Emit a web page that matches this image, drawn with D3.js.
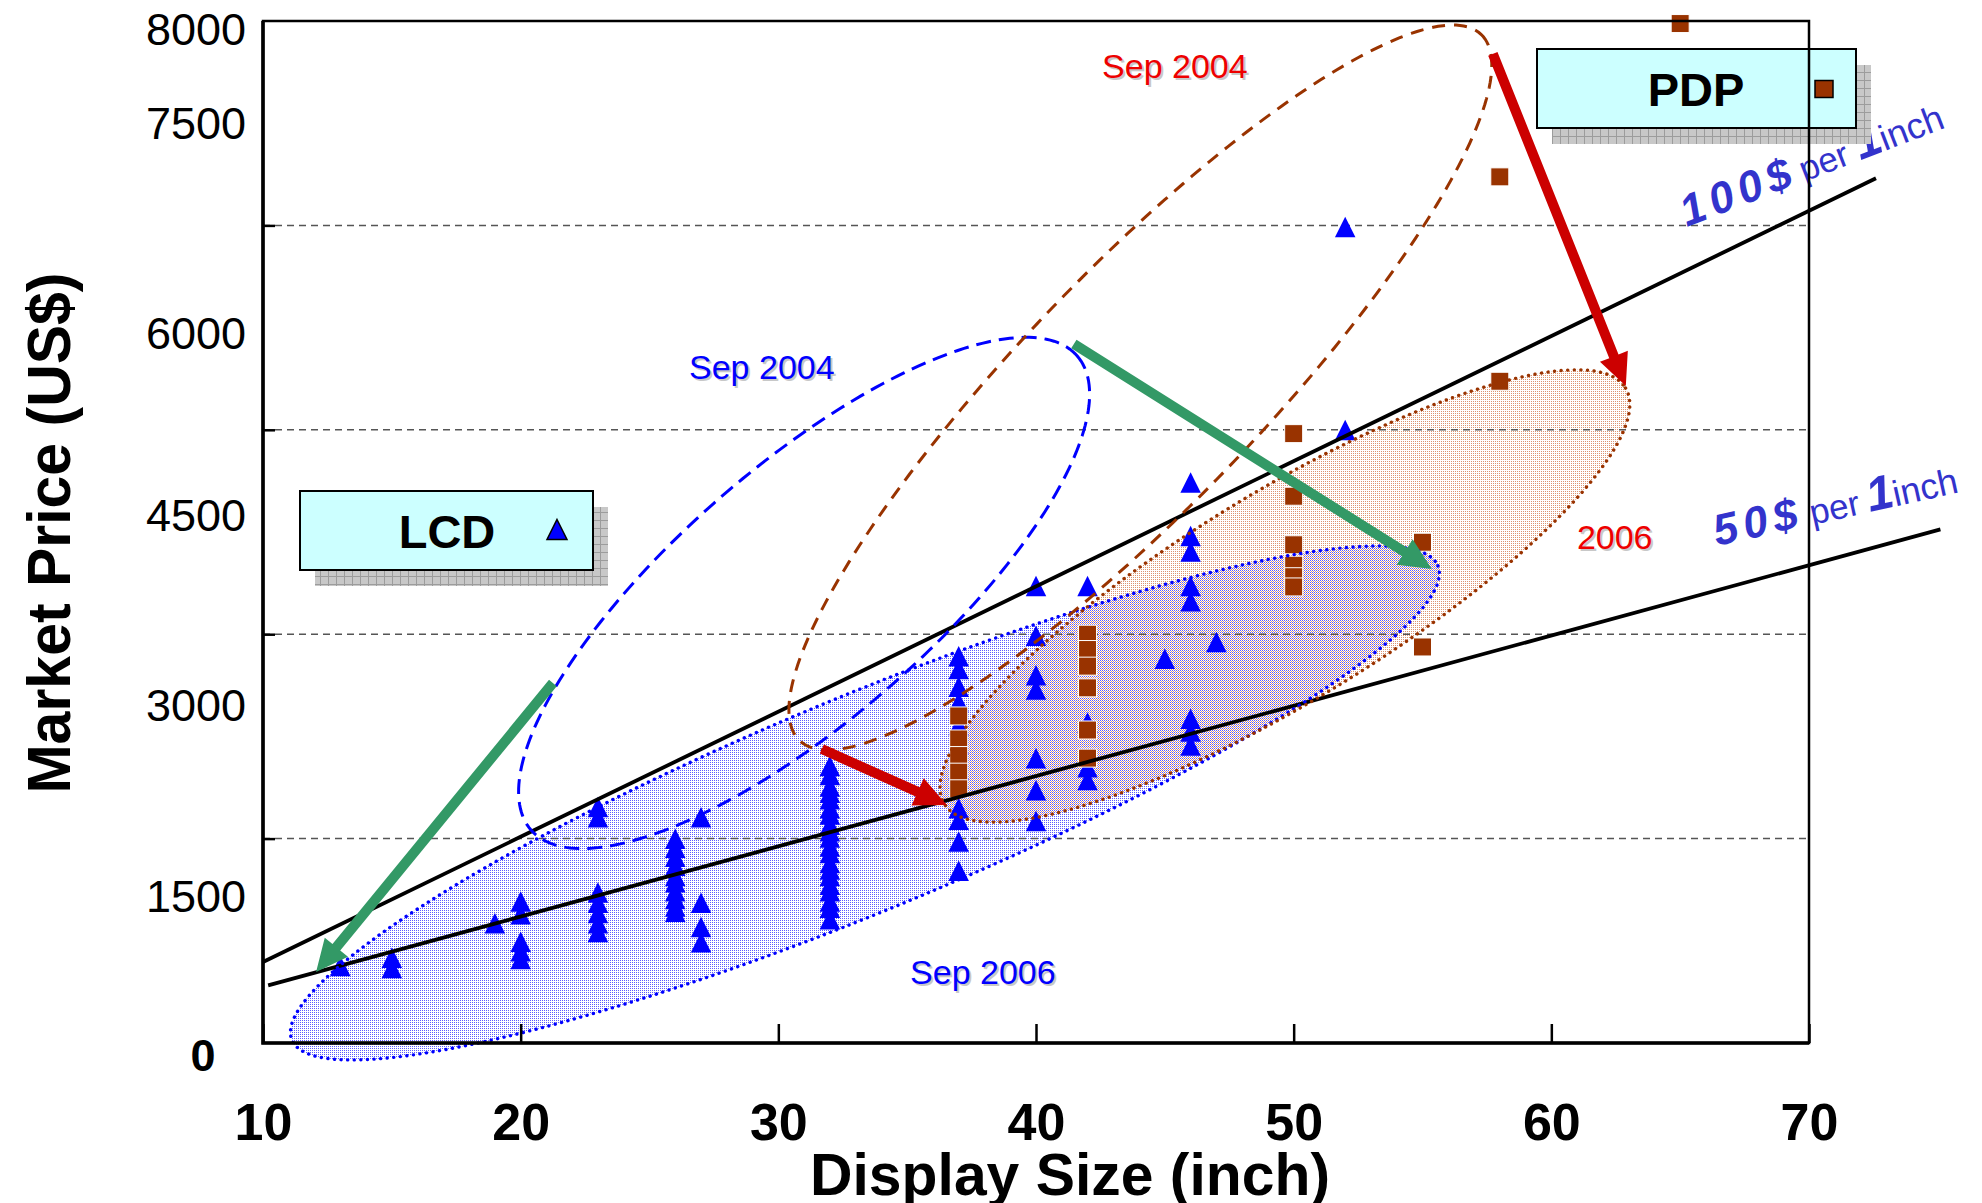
<!DOCTYPE html>
<html>
<head>
<meta charset="utf-8">
<title>Market price vs display size: LCD and PDP</title>
<style>
* {
	margin: 0;
	padding: 0;
}
body {
	background: #fff;
}
svg {
	display: block;
	font-family: "Liberation Sans", Arial, sans-serif;
}
</style>
</head>
<body>
<div id="chart"></div>
<script src="https://cdn.jsdelivr.net/npm/d3@7"></script>
<script>

// ---- data ----
var xTickLabels = [ 10, 20, 30, 40, 50, 60, 70 ];
var yGrid = [ 1600, 3200, 4800, 6400 ];
// the printed price labels do not sit on the grid; yTickLabelAt is where each one was placed
var yTickLabels = [ '0', '1500', '3000', '4500', '6000', '7500', '8000' ];
var yTickLabelAt = [ -94, 1151, 2646, 4133, 5558, 7202, 7937 ];

var lcdSizes = [ 13, 15, 19, 20, 23, 26, 27, 32, 37, 40, 42, 45, 46, 47, 52 ];
var lcdPrices = [
	[ 595 ],
	[ 660, 580 ],
	[ 930 ],
	[ 1100, 1000, 785, 710, 650 ],
	[ 1840, 1760, 1170, 1090, 1010, 930, 860 ],
	[ 1590, 1520, 1450, 1380, 1300, 1250, 1180, 1120, 1060, 1020 ],
	[ 1760, 1090, 900, 780 ],
	[ 2160, 2090, 2000, 1950, 1900, 1830, 1780, 1700, 1650, 1600, 1530, 1480, 1400, 1350, 1300, 1230, 1180, 1100, 1050, 960 ],
	[ 3020, 2920, 2780, 2660, 2480, 2330, 2130, 2060, 1830, 1740, 1570, 1340 ],
	[ 3570, 3180, 2870, 2760, 2220, 1970, 1730 ],
	[ 3570, 2500, 2150, 2050 ],
	[ 3000 ],
	[ 4380, 3960, 3840, 3570, 3450, 2530, 2430, 2320 ],
	[ 3130 ],
	[ 6380, 4790 ]
];

var pdpSizes = [ 37, 42, 50, 55, 58, 65 ];
var pdpPrices = [
	[ 2560, 2380, 2250, 2120, 1990 ],
	[ 3200, 3080, 2950, 2780, 2450, 2230 ],
	[ 4770, 4280, 3900, 3740, 3650, 3570 ],
	[ 3920, 3100 ],
	[ 6780, 5180 ],
	[ 7980 ]
];

// "$ per inch" guide lines: price = slope * size + intercept
var line100 = { slope: 98, intercept: -346, from: 10, to: 72.6 };
var line50 = { slope: 55, intercept: -110, from: 10.2, to: 75.1 };

// ovals: centre and end of the long axis in data units, short/long ratio
var ovalLcd2006 = { center: [ 33.36, 1879 ], tip: [ 55.6, 3735 ], ratio: 0.173 };
var ovalPdp2006 = { center: [ 49.66, 3499 ], tip: [ 62.88, 5127 ], ratio: 0.261 };
var ovalLcd2004 = { center: [ 31.0, 3523 ], tip: [ 41.6, 5378 ], ratio: 0.351 };
var ovalPdp2004 = { center: [ 44.05, 5131 ], tip: [ 57.28, 7894 ], ratio: 0.242 };

// arrows from -> to, in data units
var lcdArrows = [ [ [ 21.25, 2818 ], [ 12.06, 556 ] ], [ [ 41.47, 5472 ], [ 55.36, 3710 ] ] ];
var pdpArrows = [ [ [ 57.73, 7742 ], [ 62.89, 5143 ] ], [ [ 31.69, 2301 ], [ 36.54, 1863 ] ] ];

var notes = [
	{ text: 'Sep 2004', at: [ 45.39, 7648 ], kind: 'pdp' },
	{ text: 'Sep 2004', at: [ 29.36, 5292 ], kind: 'lcd' },
	{ text: 'Sep 2006', at: [ 37.94, 556 ], kind: 'lcd' },
	{ text: '2006', at: [ 62.46, 3961 ], kind: 'pdp' }
];

// ---- drawing ----
var colors = {
	lcd: '#0000ff',
	pdp: '#993300',
	lcdText: '#0000ff',
	pdpText: '#ee0000',
	green: '#339966',
	red: '#cc0000',
	perInch: '#3333cc',
	grid: '#555555',
	box: '#ccffff'
};

var W = 1982, H = 1203;
var svg = d3.select( '#chart' ).append( 'svg' )
	.attr( 'width', W )
	.attr( 'height', H );

var x = d3.scaleLinear().domain( [ 10, 70 ] ).range( [ 263, 1809 ] );
var y = d3.scaleLinear().domain( [ 0, 8000 ] ).range( [ 1043, 21 ] );

var defs = svg.append( 'defs' );

function dotPattern( id, color, ox, oy ) {
	var p = defs.append( 'pattern' )
		.attr( 'id', id )
		.attr( 'patternUnits', 'userSpaceOnUse' )
		.attr( 'width', 2 )
		.attr( 'height', 2 );
	p.append( 'rect' )
		.attr( 'x', ox ).attr( 'y', oy )
		.attr( 'width', 1 ).attr( 'height', 1 )
		.attr( 'fill', color );
}
dotPattern( 'lcdFill', '#5c5cff', 0, 0 );
dotPattern( 'pdpFill', '#dd9470', 1, 1 );

var sp = defs.append( 'pattern' )
	.attr( 'id', 'shadowGrid' )
	.attr( 'patternUnits', 'userSpaceOnUse' )
	.attr( 'width', 8 )
	.attr( 'height', 8 );
sp.append( 'rect' ).attr( 'width', 8 ).attr( 'height', 8 ).attr( 'fill', '#c8c8c8' );
sp.append( 'path' ).attr( 'd', 'M0,0.5H8M0.5,0V8' ).attr( 'stroke', '#9c9c9c' ).attr( 'stroke-width', 1 );

// oval as an unrotated path so the dot fill stays on the pixel grid
var ovalLine = d3.line().curve( d3.curveLinearClosed );
function ovalPath( e ) {
	var cx = x( e.center[0] ), cy = y( e.center[1] );
	var tx = x( e.tip[0] ), ty = y( e.tip[1] );
	var a = Math.hypot( tx - cx, ty - cy ), b = a * e.ratio;
	var th = Math.atan2( ty - cy, tx - cx );
	var c = Math.cos( th ), s = Math.sin( th );
	var pts = d3.range( 240 ).map( function ( i ) {
		var t = i / 240 * 2 * Math.PI;
		var u = a * Math.cos( t ), v = b * Math.sin( t );
		return [ cx + u * c - v * s, cy + u * s + v * c ];
	} );
	return ovalLine( pts );
}

// filled 2006 ovals
var fills = svg.append( 'g' );
fills.append( 'path' ).attr( 'd', ovalPath( ovalLcd2006 ) ).attr( 'fill', 'url(#lcdFill)' );
fills.append( 'path' ).attr( 'd', ovalPath( ovalPdp2006 ) ).attr( 'fill', 'url(#pdpFill)' );

// grid
svg.append( 'g' ).selectAll( 'line' )
	.data( yGrid )
	.join( 'line' )
	.attr( 'x1', x( 10 ) ).attr( 'x2', x( 70 ) )
	.attr( 'y1', function ( d ) { return y( d ); } )
	.attr( 'y2', function ( d ) { return y( d ); } )
	.attr( 'stroke', colors.grid )
	.attr( 'stroke-width', 1.5 )
	.attr( 'stroke-dasharray', '7,5' );

// markers
function flatten( sizes, prices ) {
	var out = [];
	sizes.forEach( function ( s, i ) {
		prices[i].forEach( function ( p ) { out.push( [ s, p ] ); } );
	} );
	return out;
}

var triangle = {
	draw: function ( ctx, size ) {
		var h = Math.sqrt( size );
		ctx.moveTo( 0, -h * 0.55 );
		ctx.lineTo( h * 0.5, h * 0.45 );
		ctx.lineTo( -h * 0.5, h * 0.45 );
		ctx.closePath();
	}
};

svg.append( 'g' ).selectAll( 'path' )
	.data( flatten( lcdSizes, lcdPrices ) )
	.join( 'path' )
	.attr( 'd', d3.symbol( triangle, 420 ) )
	.attr( 'transform', function ( d ) { return 'translate(' + x( d[0] ) + ',' + y( d[1] ) + ')'; } )
	.attr( 'fill', colors.lcd );

svg.append( 'g' ).selectAll( 'rect' )
	.data( flatten( pdpSizes, pdpPrices ) )
	.join( 'rect' )
	.attr( 'x', function ( d ) { return x( d[0] ) - 9; } )
	.attr( 'y', function ( d ) { return y( d[1] ) - 9; } )
	.attr( 'width', 18 ).attr( 'height', 18 )
	.attr( 'fill', colors.pdp )
	.attr( 'stroke', '#fff' )
	.attr( 'stroke-width', 1 );

// guide lines
[ line100, line50 ].forEach( function ( l ) {
	svg.append( 'line' )
		.attr( 'x1', x( l.from ) ).attr( 'y1', y( l.slope * l.from + l.intercept ) )
		.attr( 'x2', x( l.to ) ).attr( 'y2', y( l.slope * l.to + l.intercept ) )
		.attr( 'stroke', '#000' )
		.attr( 'stroke-width', 3.8 );
} );

// oval outlines
var outlines = svg.append( 'g' ).attr( 'fill', 'none' );
outlines.append( 'path' ).attr( 'd', ovalPath( ovalLcd2006 ) )
	.attr( 'stroke', colors.lcd ).attr( 'stroke-width', 3.4 )
	.attr( 'stroke-dasharray', '0.1,6.5' ).attr( 'stroke-linecap', 'round' );
outlines.append( 'path' ).attr( 'd', ovalPath( ovalPdp2006 ) )
	.attr( 'stroke', colors.pdp ).attr( 'stroke-width', 3.4 )
	.attr( 'stroke-dasharray', '0.1,6.5' ).attr( 'stroke-linecap', 'round' );
outlines.append( 'path' ).attr( 'd', ovalPath( ovalLcd2004 ) )
	.attr( 'stroke', colors.lcd ).attr( 'stroke-width', 3 )
	.attr( 'stroke-dasharray', '15,8' );
outlines.append( 'path' ).attr( 'd', ovalPath( ovalPdp2004 ) )
	.attr( 'stroke', colors.pdp ).attr( 'stroke-width', 3 )
	.attr( 'stroke-dasharray', '13,9' );

// arrows
function arrowPath( s, e ) {
	var x0 = x( s[0] ), y0 = y( s[1] ), x1 = x( e[0] ), y1 = y( e[1] );
	var L = Math.hypot( x1 - x0, y1 - y0 );
	var ux = ( x1 - x0 ) / L, uy = ( y1 - y0 ) / L, nx = -uy, ny = ux;
	var hl = 32, hw = 15, sw = 5;
	var bx = x1 - ux * hl, by = y1 - uy * hl;
	var pts = [
		[ x0 + nx * sw, y0 + ny * sw ],
		[ bx + nx * sw, by + ny * sw ],
		[ bx + nx * hw, by + ny * hw ],
		[ x1, y1 ],
		[ bx - nx * hw, by - ny * hw ],
		[ bx - nx * sw, by - ny * sw ],
		[ x0 - nx * sw, y0 - ny * sw ]
	];
	return 'M' + pts.map( function ( p ) { return p[0] + ',' + p[1]; } ).join( 'L' ) + 'Z';
}

svg.append( 'g' ).selectAll( 'path' )
	.data( lcdArrows )
	.join( 'path' )
	.attr( 'd', function ( d ) { return arrowPath( d[0], d[1] ); } )
	.attr( 'fill', colors.green );

svg.append( 'g' ).selectAll( 'path' )
	.data( pdpArrows )
	.join( 'path' )
	.attr( 'd', function ( d ) { return arrowPath( d[0], d[1] ); } )
	.attr( 'fill', colors.red );

// notes with a soft shadow
var noteG = svg.append( 'g' ).attr( 'font-size', 34 ).attr( 'text-anchor', 'middle' );
notes.forEach( function ( n ) {
	noteG.append( 'text' )
		.attr( 'x', x( n.at[0] ) + 2 ).attr( 'y', y( n.at[1] ) + 14 )
		.attr( 'fill', '#c8c8c8' )
		.text( n.text );
	noteG.append( 'text' )
		.attr( 'x', x( n.at[0] ) ).attr( 'y', y( n.at[1] ) + 12 )
		.attr( 'fill', n.kind === 'lcd' ? colors.lcdText : colors.pdpText )
		.text( n.text );
} );

// "$ per 1 inch" labels, pieces laid out along a tilted baseline
function perInch( amount, at, angle, offsets ) {
	var g = svg.append( 'g' )
		.attr( 'transform', 'translate(' + x( at[0] ) + ',' + y( at[1] ) + ') rotate(' + angle + ')' )
		.attr( 'fill', colors.perInch );
	g.append( 'text' ).attr( 'x', offsets[0] )
		.attr( 'font-size', 44 ).attr( 'font-weight', 'bold' ).attr( 'font-style', 'italic' )
		.attr( 'letter-spacing', 6 )
		.text( amount + '$' );
	g.append( 'text' ).attr( 'x', offsets[1] ).attr( 'font-size', 35 ).text( 'per' );
	g.append( 'text' ).attr( 'x', offsets[2] )
		.attr( 'font-size', 48 ).attr( 'font-weight', 'bold' ).attr( 'font-style', 'italic' )
		.text( '1' );
	g.append( 'text' ).attr( 'x', offsets[3] ).attr( 'font-size', 36 ).text( 'inch' );
}
perInch( 100, [ 65.26, 6388 ], -21, [ 0, 126, 186, 212 ] );
perInch( 50, [ 66.42, 3890 ], -12.5, [ 0, 98, 157, 183 ] );

// legend boxes
function legendBox( name, box, textX, markX, kind ) {
	var g = svg.append( 'g' );
	g.append( 'rect' )
		.attr( 'x', box[0] + 15 ).attr( 'y', box[1] + 16 )
		.attr( 'width', box[2] ).attr( 'height', box[3] )
		.attr( 'fill', 'url(#shadowGrid)' );
	g.append( 'rect' )
		.attr( 'x', box[0] ).attr( 'y', box[1] )
		.attr( 'width', box[2] ).attr( 'height', box[3] )
		.attr( 'fill', colors.box )
		.attr( 'stroke', '#000' ).attr( 'stroke-width', 2 );
	var cy = box[1] + box[3] / 2;
	g.append( 'text' )
		.attr( 'x', textX ).attr( 'y', cy + 17 )
		.attr( 'text-anchor', 'middle' )
		.attr( 'font-size', 47 ).attr( 'font-weight', 'bold' )
		.text( name );
	if ( kind === 'lcd' ) {
		g.append( 'path' )
			.attr( 'd', d3.symbol( triangle, 400 ) )
			.attr( 'transform', 'translate(' + markX + ',' + cy + ')' )
			.attr( 'fill', colors.lcd ).attr( 'stroke', '#000' ).attr( 'stroke-width', 1.5 );
	} else {
		g.append( 'rect' )
			.attr( 'x', markX - 9 ).attr( 'y', cy - 8 )
			.attr( 'width', 18 ).attr( 'height', 17 )
			.attr( 'fill', colors.pdp ).attr( 'stroke', '#000' ).attr( 'stroke-width', 1.5 );
	}
}
legendBox( 'LCD', [ 300, 491, 293, 79 ], 447, 557, 'lcd' );
legendBox( 'PDP', [ 1537, 49, 319, 79 ], 1696, 1824, 'pdp' );

// axes and frame
var xAxis = d3.axisBottom( x )
	.tickValues( xTickLabels )
	.tickSize( -19 )
	.tickPadding( 60 )
	.tickFormat( d3.format( 'd' ) );

svg.append( 'g' )
	.attr( 'transform', 'translate(0,' + y( 0 ) + ')' )
	.call( xAxis )
	.call( function ( g ) { g.select( '.domain' ).remove(); } )
	.call( function ( g ) {
		g.selectAll( 'line' ).attr( 'stroke', '#000' ).attr( 'stroke-width', 2.5 );
		g.selectAll( 'text' )
			.attr( 'fill', '#000' )
			.attr( 'font-size', 52 )
			.attr( 'font-weight', 'bold' )
			.attr( 'font-family', '"Liberation Sans", Arial, sans-serif' );
	} );

svg.append( 'g' )
	.attr( 'transform', 'translate(' + x( 10 ) + ',0)' )
	.call( d3.axisLeft( y ).tickValues( yGrid ).tickSize( -12 ).tickFormat( '' ) )
	.call( function ( g ) { g.select( '.domain' ).remove(); } )
	.call( function ( g ) { g.selectAll( 'line' ).attr( 'stroke', '#000' ).attr( 'stroke-width', 2.5 ); } );

svg.append( 'rect' )
	.attr( 'x', x( 10 ) ).attr( 'y', y( 8000 ) )
	.attr( 'width', x( 70 ) - x( 10 ) ).attr( 'height', y( 0 ) - y( 8000 ) )
	.attr( 'fill', 'none' )
	.attr( 'stroke', '#000' )
	.attr( 'stroke-width', 2.5 );
svg.append( 'path' )
	.attr( 'd', 'M' + x( 10 ) + ',' + y( 8000 ) + 'V' + y( 0 ) + 'H' + x( 70 ) )
	.attr( 'fill', 'none' )
	.attr( 'stroke', '#000' )
	.attr( 'stroke-width', 3.6 );

// price labels
svg.append( 'g' ).selectAll( 'text' )
	.data( yTickLabels )
	.join( 'text' )
	.attr( 'x', function ( d ) { return d === '0' ? 203 : 246; } )
	.attr( 'y', function ( d, i ) { return y( yTickLabelAt[i] ) + 16; } )
	.attr( 'text-anchor', function ( d ) { return d === '0' ? 'middle' : 'end'; } )
	.attr( 'font-weight', function ( d ) { return d === '0' ? 'bold' : 'normal'; } )
	.attr( 'font-size', 45 )
	.text( function ( d ) { return d; } );

// axis titles
svg.append( 'text' )
	.attr( 'x', 1070 ).attr( 'y', 1195 )
	.attr( 'text-anchor', 'middle' )
	.attr( 'font-size', 60 ).attr( 'font-weight', 'bold' )
	.attr( 'textLength', 520 ).attr( 'lengthAdjust', 'spacingAndGlyphs' )
	.text( 'Display Size (inch)' );

svg.append( 'text' )
	.attr( 'transform', 'translate(70,533) rotate(-90)' )
	.attr( 'text-anchor', 'middle' )
	.attr( 'font-size', 62 ).attr( 'font-weight', 'bold' )
	.attr( 'textLength', 521 ).attr( 'lengthAdjust', 'spacingAndGlyphs' )
	.text( 'Market Price (US$)' );

</script>
</body>
</html>
